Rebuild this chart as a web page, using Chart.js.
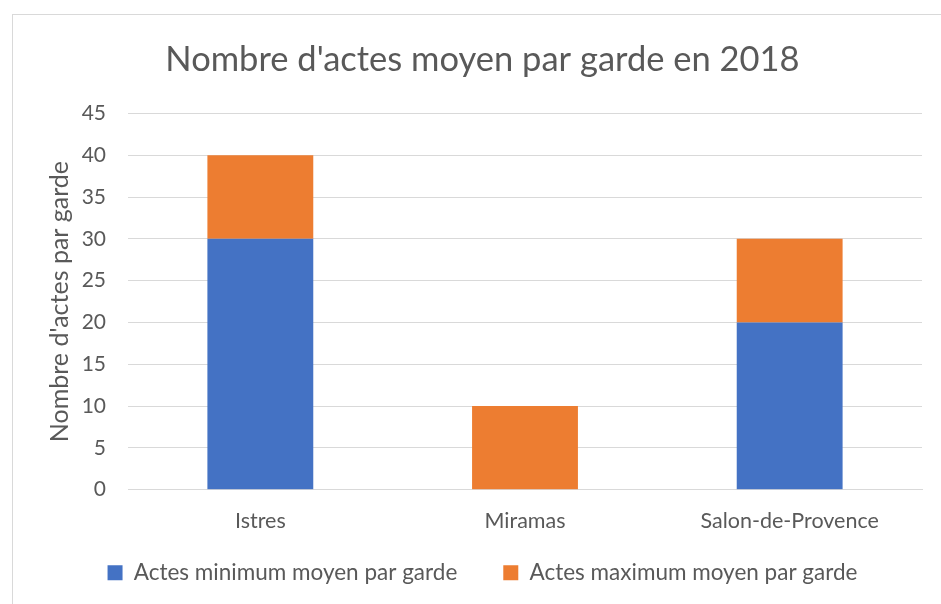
<!DOCTYPE html>
<html>
<head>
<meta charset="utf-8">
<script src="https://cdn.jsdelivr.net/npm/chart.js@4"></script>
<style>
    html, body { margin: 0; padding: 0; background: #fff; overflow: hidden; }
    #frame {
        position: absolute;
        left: 12px;
        top: 14px;
        width: 940px;
        height: 600px;
        border: 1px solid #d9d9d9;
        box-sizing: border-box;
    }
    #wrap { position: absolute; left: 0; top: 0; width: 928px; height: 590px; }
</style>
</head>
<body>
<div id="frame">
    <div id="wrap"><canvas id="chart"></canvas></div>
</div>
<script>
// Chart data
const categories = ['Istres', 'Miramas', 'Salon-de-Provence'];
const minActs = [30, 0, 20];
const maxActs = [10, 10, 10];
const seriesLabels = ['Actes minimum moyen par garde', 'Actes maximum moyen par garde'];
const yTicks = [0, 5, 10, 15, 20, 25, 30, 35, 40, 45];

const textColor = '#595959';
const fontFamily = 'Lato, "Open Sans", sans-serif';
const legendGap = 46;     // horizontal space between legend items
const legendTrim = 28;    // vertical space taken back from the legend box

document.addEventListener('DOMContentLoaded', () => {
    const ctx = document.getElementById('chart').getContext('2d');
    const chart = new Chart(ctx, {
        type: 'bar',
        data: {
            labels: categories,
            datasets: [
                {
                    label: seriesLabels[0],
                    data: minActs,
                    backgroundColor: '#4472c4',
                    categoryPercentage: 1,
                    barPercentage: 0.4
                },
                {
                    label: seriesLabels[1],
                    data: maxActs,
                    backgroundColor: '#ed7d31',
                    categoryPercentage: 1,
                    barPercentage: 0.4
                }
            ]
        },
        options: {
            responsive: true,
            maintainAspectRatio: false,
            animation: false,
            layout: { padding: { left: 30, right: 19, top: 24, bottom: 11 } },
            plugins: {
                title: {
                    display: true,
                    text: "Nombre d'actes moyen par garde en 2018",
                    color: textColor,
                    font: { family: fontFamily, size: 34.5, weight: 'normal' },
                    padding: { top: 0, bottom: 33 }
                },
                legend: {
                    position: 'bottom',
                    labels: {
                        color: textColor,
                        font: { family: fontFamily, size: 22.5 },
                        boxWidth: 15,
                        boxHeight: 15,
                        padding: legendGap
                    }
                },
                tooltip: { enabled: false }
            },
            scales: {
                x: {
                    stacked: true,
                    grid: { display: false },
                    border: { color: '#d9d9d9' },
                    ticks: {
                        color: textColor,
                        font: { family: fontFamily, size: 21.5 },
                        padding: 10
                    }
                },
                y: {
                    stacked: true,
                    min: 0,
                    max: 45,
                    afterBuildTicks: (axis) => {
                        axis.ticks = yTicks.map(v => ({ value: v }));
                    },
                    afterFit: (axis) => {
                        axis.width = 85;
                    },
                    grid: { color: '#d9d9d9', drawTicks: false },
                    border: { display: false },
                    ticks: {
                        color: textColor,
                        font: { family: fontFamily, size: 21 },
                        padding: 22
                    },
                    title: {
                        display: true,
                        text: "Nombre d'actes par garde",
                        color: textColor,
                        font: { family: fontFamily, size: 25 },
                        padding: { top: 2, bottom: 7 }
                    }
                }
            }
        }
    });

    // the legend padding sets both the gap between items and the space above them;
    // keep the wide gap but give the vertical space back to the plot
    const legend = chart.legend;
    const legendFit = legend.fit;
    legend.fit = function () {
        legendFit.call(this);
        this.height -= legendTrim;
    };
    const legendDraw = legend.draw;
    legend.draw = function () {
        const top = this.top;
        this.top = top - legendTrim;
        legendDraw.call(this);
        this.top = top;
    };
    chart.update();
});
</script>
</body>
</html>
